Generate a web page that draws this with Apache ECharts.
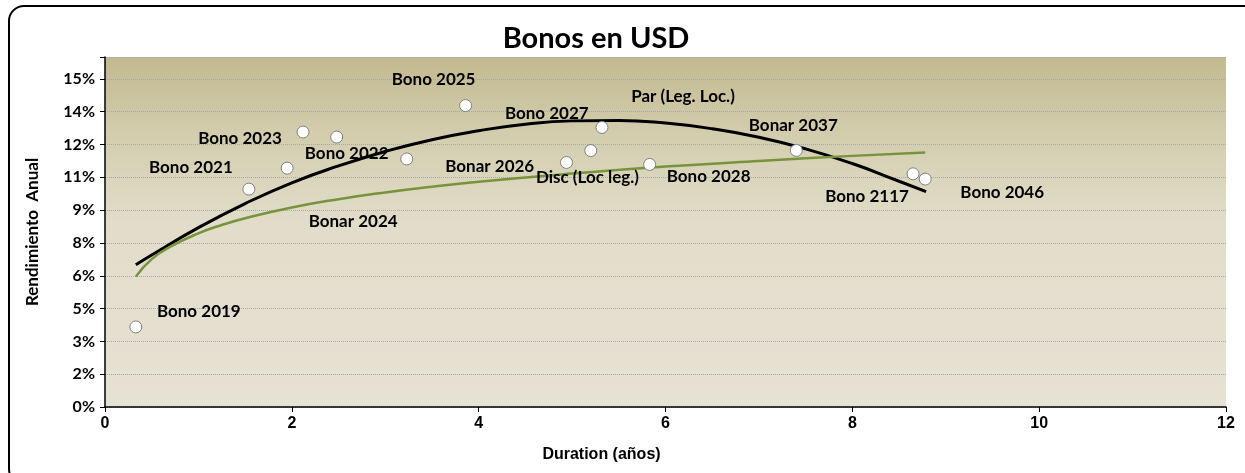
<!DOCTYPE html>
<html>
<head>
<meta charset="utf-8">
<script src="https://cdn.jsdelivr.net/npm/echarts@6/dist/echarts.min.js"></script>
<style>
  html, body { margin: 0; padding: 0; background: #fff; overflow: hidden; }
  #chart { position: absolute; left: 0; top: 0; width: 1245px; height: 473px; }
  #frame {
    position: absolute; left: 8px; top: 5px; width: 1270px; height: 480px;
    border: 2px solid #000; border-radius: 16px; box-sizing: border-box; pointer-events: none;
  }
</style>
</head>
<body>
<div id="chart"></div>
<div id="frame"></div>
<script>
// bonos: duration (años) y rendimiento anual (%)
const bondNames = ['Bono 2019', 'Bono 2021', 'Bonar 2024', 'Bono 2023', 'Bono 2022', 'Bonar 2026', 'Bono 2025',
  'Disc (Loc leg.)', 'Bono 2027', 'Par (Leg. Loc.)', 'Bono 2028', 'Bonar 2037', 'Bono 2117', 'Bono 2046']
const duration = [0.33, 1.54, 1.95, 2.12, 2.48, 3.23, 3.86, 4.94, 5.20, 5.32, 5.83, 7.40, 8.65, 8.78]
const yieldPct = [3.66, 9.96, 10.92, 12.57, 12.34, 11.34, 13.78, 11.18, 11.72, 12.78, 11.09, 11.73, 10.66, 10.42]

// linea de tendencia negra (polinomica)
const polyX = [0.33, 0.5, 1, 1.5, 2, 2.5, 3, 3.5, 4, 4.5, 5, 5.5, 6, 6.5, 7, 7.5, 8, 8.5, 8.79]
const polyY = [6.50, 6.95, 8.20, 9.30, 10.25, 11.02, 11.68, 12.22, 12.63, 12.93, 13.08, 13.10, 12.98, 12.72, 12.33, 11.80, 11.13, 10.32, 9.85]

// linea de tendencia verde (logaritmica)
const logX = [0.33, 0.5, 0.7, 1, 1.25, 1.5, 2, 2.5, 3, 3.5, 4, 5, 6, 7, 8, 8.78]
const logY = [5.96, 6.76, 7.33, 7.94, 8.32, 8.63, 9.12, 9.50, 9.81, 10.07, 10.30, 10.67, 10.99, 11.25, 11.48, 11.63]

const yTickLabels = ['0%', '2%', '3%', '5%', '6%', '8%', '9%', '11%', '12%', '14%', '15%']

// desplazamiento de cada etiqueta respecto al punto (px)
const labelOffsets = [[63, -15], [-58, -22], [66, 53], [-63, 6], [10, 16], [83, 8], [-32, -26],
  [21, 15], [-44, -37], [81, -31], [59, 12], [-3, -25], [-46, 23], [77, 13]]

const calibri = 'Lato, "Noto Sans", sans-serif'
const narrow = '"Liberation Sans Narrow", "Liberation Sans", Arial, sans-serif'

const chart = echarts.init(document.getElementById('chart'))
chart.setOption({
  animation: false,
  title: {
    text: 'Bonos en USD',
    left: 591,
    top: 19,
    textAlign: 'center',
    textStyle: { fontFamily: calibri, fontWeight: 'bold', fontSize: 29, color: '#000' }
  },
  grid: {
    left: 105,
    right: 19,
    top: 57,
    bottom: 66,
    show: true,
    borderWidth: 0,
    backgroundColor: new echarts.graphic.LinearGradient(0, 0, 0, 1, [
      { offset: 0, color: '#c2b98f' },
      { offset: 0.22, color: '#d3cdae' },
      { offset: 0.48, color: '#e2ddca' },
      { offset: 1, color: '#e6e2d4' }
    ])
  },
  xAxis: {
    type: 'value',
    min: 0,
    max: 12,
    interval: 2,
    name: 'Duration (años)',
    nameLocation: 'middle',
    nameGap: 40,
    nameTextStyle: { fontFamily: narrow, fontWeight: 'bold', fontSize: 16, color: '#000', padding: [0, 128, 0, 0] },
    axisLine: { lineStyle: { color: '#000', width: 1.5 } },
    axisTick: { show: true, length: 5, lineStyle: { color: '#000' } },
    axisLabel: { fontFamily: narrow, fontWeight: 'bold', fontSize: 16, color: '#000', margin: 9 },
    splitLine: { show: false }
  },
  yAxis: {
    type: 'value',
    min: 0,
    max: 16,
    interval: 1.5,
    name: 'Rendimiento  Anual',
    nameLocation: 'middle',
    nameRotate: 90,
    nameGap: 64,
    nameTextStyle: { fontFamily: calibri, fontWeight: 'bold', fontSize: 17, color: '#000' },
    axisLine: { show: true, lineStyle: { color: '#000', width: 1.5 } },
    axisTick: { show: true, length: 5, lineStyle: { color: '#000' } },
    axisLabel: {
      fontFamily: calibri, fontWeight: 'bold', fontSize: 16, color: '#000', margin: 10,
      formatter: v => {
        const i = Math.round(v / 1.5)
        return Math.abs(i * 1.5 - v) < 1e-6 ? (yTickLabels[i] || '') : ''
      }
    },
    splitLine: { show: true, lineStyle: { color: '#a8a8a8', type: 'dotted', width: 1 } }
  },
  series: [
    {
      type: 'line',
      data: polyX.map((x, i) => [x, polyY[i]]),
      smooth: true,
      showSymbol: false,
      lineStyle: { color: '#000', width: 3 },
      z: 2
    },
    {
      type: 'line',
      data: logX.map((x, i) => [x, logY[i]]),
      smooth: true,
      showSymbol: false,
      lineStyle: { color: '#77933c', width: 2.5 },
      z: 2
    },
    {
      type: 'scatter',
      symbolSize: 12,
      itemStyle: { color: '#fff', borderColor: '#808080', borderWidth: 1, opacity: 1 },
      label: {
        show: true,
        position: 'inside',
        formatter: p => p.name,
        fontFamily: calibri,
        fontWeight: 'bold',
        fontSize: 17,
        color: '#000'
      },
      data: duration.map((d, i) => ({
        name: bondNames[i],
        value: [d, yieldPct[i]],
        label: { offset: labelOffsets[i] }
      })),
      z: 3
    }
  ]
})
</script>
</body>
</html>
